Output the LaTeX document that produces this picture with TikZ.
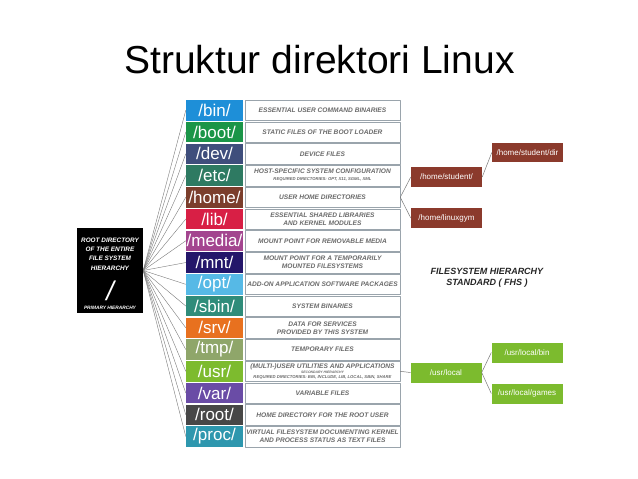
\documentclass[tikz,border=0pt]{standalone}
\usepackage{fontspec}
\setmainfont{Liberation Sans}
\usetikzlibrary{positioning}
\definecolor{c-bin}{HTML}{1E8FD8}
\definecolor{c-boot}{HTML}{1B9548}
\definecolor{c-dev}{HTML}{3F4E7C}
\definecolor{c-etc}{HTML}{2E7A62}
\definecolor{c-home}{HTML}{7B3E2C}
\definecolor{c-lib}{HTML}{D81F45}
\definecolor{c-media}{HTML}{A3458F}
\definecolor{c-mnt}{HTML}{24166A}
\definecolor{c-opt}{HTML}{56B9E6}
\definecolor{c-sbin}{HTML}{2F8C7A}
\definecolor{c-srv}{HTML}{E8711F}
\definecolor{c-tmp}{HTML}{8FA66A}
\definecolor{c-usr}{HTML}{7DBB2E}
\definecolor{c-var}{HTML}{6A4CA6}
\definecolor{c-root}{HTML}{474747}
\definecolor{c-proc}{HTML}{2E97AE}
\definecolor{c-homesub}{HTML}{8B3A2C}
\definecolor{c-usrsub}{HTML}{7CBB2E}
\definecolor{descgray}{HTML}{6A6A6A}
\definecolor{descline}{HTML}{9AA4AC}
\definecolor{fangray}{HTML}{7A7A7A}
\newcommand\reqline[1]{{\fontsize{4.2}{5}\selectfont #1}}
\newcommand\secline[1]{{\fontsize{3.4}{4}\selectfont #1}}
\tikzset{
  dirbox/.style={fill=#1, text=white, minimum width=57pt, minimum height=20.6pt,
    inner sep=0pt, font=\fontsize{17}{17}\selectfont},
  descbox/.style={draw=descline, line width=0.5pt, fill=white, minimum width=155pt,
    minimum height=20.6pt, inner sep=0pt, align=center, text=descgray,
    font=\fontsize{6.6}{7.9}\selectfont\bfseries\itshape},
  subbox/.style={fill=#1, text=white, minimum width=71pt, minimum height=20pt,
    inner sep=0pt, font=\fontsize{8}{8}\selectfont},
  roottxt/.style={text=white, align=center, inner sep=0pt,
    font=\fontsize{6.4}{9.3}\selectfont\bfseries\itshape},
  fan/.style={draw=fangray, line width=0.4pt},
  link/.style={draw=fangray, line width=0.5pt},
}
\begin{document}
\begin{tikzpicture}[x=1pt,y=-1pt,line join=round,line cap=round]
  \useasboundingbox[fill=white] (0,0) rectangle (638,479);
  \node[font=\fontsize{39}{39}\selectfont] (title) at (319.5,60) {Struktur direktori Linux};
  % directory rows
  \foreach \i/\nm/\desc in {
    0/bin/{ESSENTIAL USER COMMAND BINARIES},
    1/boot/{STATIC FILES OF THE BOOT LOADER},
    2/dev/{DEVICE FILES},
    3/etc/{HOST-SPECIFIC SYSTEM CONFIGURATION\\[-1pt]\reqline{REQUIRED DIRECTORIES: OPT, X11, SGML, XML}},
    4/home/{USER HOME DIRECTORIES},
    5/lib/{ESSENTIAL SHARED LIBRARIES\\AND KERNEL MODULES},
    6/media/{MOUNT POINT FOR REMOVABLE MEDIA},
    7/mnt/{MOUNT POINT FOR A TEMPORARILY\\MOUNTED FILESYSTEMS},
    8/opt/{ADD-ON APPLICATION SOFTWARE PACKAGES},
    9/sbin/{SYSTEM BINARIES},
    10/srv/{DATA FOR SERVICES\\PROVIDED BY THIS SYSTEM},
    11/tmp/{TEMPORARY FILES},
    12/usr/{(MULTI-)USER UTILITIES AND APPLICATIONS\\[-2.8pt]\secline{SECONDARY HIERARCHY}\\[-2.6pt]\reqline{REQUIRED DIRECTORIES: BIN, INCLUDE, LIB, LOCAL, SBIN, SHARE}},
    13/var/{VARIABLE FILES},
    14/root/{HOME DIRECTORY FOR THE ROOT USER},
    15/proc/{VIRTUAL FILESYSTEM DOCUMENTING KERNEL\\AND PROCESS STATUS AS TEXT FILES}}{
    \node[dirbox=c-\nm] (\nm) at (214.5,{110.3+21.75*\i}) {/\nm/};
    \node[descbox] (\nm-d) at (322.5,{110.3+21.75*\i}) {\desc};
  }
  % root of the tree
  \node[fill=black, minimum width=66pt, minimum height=85pt, inner sep=0pt] (fsroot) at (110,270.5) {};
  \node[roottxt] (fsroot-t) at (110,254) {ROOT DIRECTORY\\OF THE ENTIRE\\FILE SYSTEM\\HIERARCHY};
  \node[text=white, inner sep=0pt, font=\fontsize{27}{27}\selectfont\itshape] (slash) at (110,291) {/};
  \node[roottxt, font=\fontsize{4.8}{5}\selectfont\bfseries\itshape] (prim) at (110,308) {PRIMARY HIERARCHY};
  \foreach \nm in {bin,boot,dev,etc,home,lib,media,mnt,opt,sbin,srv,tmp,usr,var,root,proc}
    \draw[fan] (fsroot.east) -- (\nm.west);
  % sub directories
  \node[subbox=c-homesub] (student) at (446.5,177) {/home/student/};
  \node[subbox=c-homesub] (linuxgym) at (446.5,218) {/home/linuxgym};
  \node[subbox=c-homesub, minimum height=19pt] (studentdir) at (527.5,152.5) {/home/student/dir};
  \node[subbox=c-usrsub] (usrlocal) at (446,372.5) {/usr/local};
  \node[subbox=c-usrsub] (localbin) at (527,352.5) {/usr/local/bin};
  \node[subbox=c-usrsub] (localgames) at (527,393.5) {/usr/local/games};
  \draw[link] (home-d.east) -- (student.west);
  \draw[link] (home-d.east) -- (linuxgym.west);
  \draw[link] (student.east) -- (studentdir.west);
  \draw[link] (usr-d.east) -- (usrlocal.west);
  \draw[link] (usrlocal.east) -- (localbin.west);
  \draw[link] (usrlocal.east) -- (localgames.west);
  \node[align=center, text=black!85, font=\fontsize{9}{11}\selectfont\bfseries\itshape] (fhs) at (487,277.5) {FILESYSTEM HIERARCHY\\STANDARD ( FHS )};
\end{tikzpicture}
\end{document}
